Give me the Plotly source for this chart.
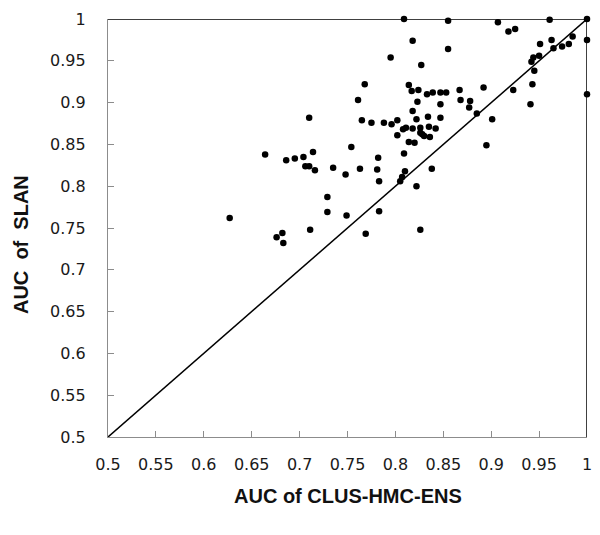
import plotly.graph_objects as go

# AUC values per class: x = CLUS-HMC-ENS, y = SLAN
AUC_CLUS = [
    0.809, 0.855, 0.907, 0.918, 0.925, 0.961, 1.000, 1.000, 1.000, 0.818,
    0.855, 0.795, 0.827, 0.951, 0.963, 0.965, 0.974, 0.981, 0.985, 0.944,
    0.950, 0.942, 0.945, 0.943, 0.941, 0.923, 0.892, 0.901, 0.885, 0.895,
    0.768, 0.761, 0.814, 0.817, 0.824, 0.833, 0.839, 0.847, 0.853, 0.867,
    0.868, 0.878, 0.877, 0.823, 0.847, 0.818, 0.834, 0.847, 0.822, 0.765,
    0.775, 0.788, 0.796, 0.802, 0.808, 0.811, 0.818, 0.826, 0.835, 0.842,
    0.802, 0.826, 0.828, 0.830, 0.836, 0.814, 0.820, 0.754, 0.809, 0.782,
    0.763, 0.781, 0.748, 0.810, 0.807, 0.805, 0.783, 0.838, 0.822, 0.710,
    0.664, 0.686, 0.695, 0.704, 0.714, 0.706, 0.710, 0.716, 0.735, 0.729,
    0.729, 0.749, 0.783, 0.769, 0.826, 0.627, 0.676, 0.682, 0.683, 0.711,
]
AUC_SLAN = [
    1.000, 0.998, 0.996, 0.985, 0.988, 0.999, 1.000, 0.975, 0.910, 0.974,
    0.964, 0.954, 0.945, 0.970, 0.975, 0.965, 0.967, 0.970, 0.979, 0.954,
    0.956, 0.949, 0.938, 0.922, 0.898, 0.915, 0.918, 0.880, 0.887, 0.849,
    0.922, 0.903, 0.921, 0.914, 0.915, 0.910, 0.912, 0.912, 0.912, 0.915,
    0.903, 0.902, 0.894, 0.901, 0.898, 0.890, 0.883, 0.882, 0.880, 0.879,
    0.876, 0.876, 0.874, 0.879, 0.868, 0.870, 0.869, 0.870, 0.871, 0.869,
    0.861, 0.864, 0.862, 0.860, 0.859, 0.853, 0.852, 0.847, 0.839, 0.834,
    0.821, 0.820, 0.814, 0.818, 0.811, 0.806, 0.806, 0.821, 0.800, 0.882,
    0.838, 0.831, 0.833, 0.835, 0.841, 0.824, 0.824, 0.819, 0.822, 0.787,
    0.769, 0.765, 0.770, 0.743, 0.748, 0.762, 0.739, 0.744, 0.732, 0.748,
]

TICK_VALS = [0.5, 0.55, 0.6, 0.65, 0.7, 0.75, 0.8, 0.85, 0.9, 0.95, 1.0]
TICK_TEXT = ["0.5", "0.55", "0.6", "0.65", "0.7", "0.75", "0.8", "0.85", "0.9", "0.95", "1"]

LO, HI = 0.5, 1.0   # ends of the reference lines

AXIS_GRAY = "#8c8c8c"
TICK_FONT = dict(family="DejaVu Sans", size=16, color="#1a1a1a")
TITLE_FONT = dict(family="Liberation Sans Narrow, Liberation Sans", size=20, color="#111111")

fig = go.Figure()

# diagonal y = x, top border y = 1 and right border x = 1
for xs, ys in [([LO, HI], [LO, HI]), ([LO, HI], [HI, HI]), ([HI, HI], [LO, HI])]:
    fig.add_trace(go.Scatter(x=xs, y=ys, mode="lines", cliponaxis=False,
                             line=dict(color="black", width=1.5), hoverinfo="skip"))

fig.add_trace(go.Scatter(
    x=AUC_CLUS, y=AUC_SLAN, mode="markers",
    marker=dict(color="black", size=6.5),
    cliponaxis=False,
))

axis_common = dict(
    range=[LO, HI], tickvals=TICK_VALS, ticktext=TICK_TEXT,
    showgrid=False, zeroline=False,
    showline=True, linecolor=AXIS_GRAY, linewidth=1.2,
    ticks="inside", ticklen=6, tickcolor=AXIS_GRAY, tickwidth=1.2,
    tickfont=TICK_FONT, ticklabeloverflow="allow",
)

# the page has an 8px body margin, so the figure is 8px smaller than the window
fig.update_layout(
    width=592, height=527,
    paper_bgcolor="white", plot_bgcolor="white",
    showlegend=False,
    margin=dict(l=100, r=13, t=2, b=98),
    xaxis=dict(**axis_common, ticklabelstandoff=13),
    yaxis=dict(**axis_common, ticklabelstandoff=18),
    annotations=[
        dict(text="<b>AUC of CLUS-HMC-ENS</b>", xref="paper", yref="paper",
             x=0.5, y=-0.14, xanchor="center", yanchor="middle",
             showarrow=False, font=TITLE_FONT),
        dict(text="<b>AUC\u00a0 of\u00a0 SLAN</b>", xref="paper", yref="paper",
             x=-0.183, y=0.46, xanchor="center", yanchor="middle", textangle=-90,
             showarrow=False, font=TITLE_FONT),
    ],
)

fig.write_html("out.html")
